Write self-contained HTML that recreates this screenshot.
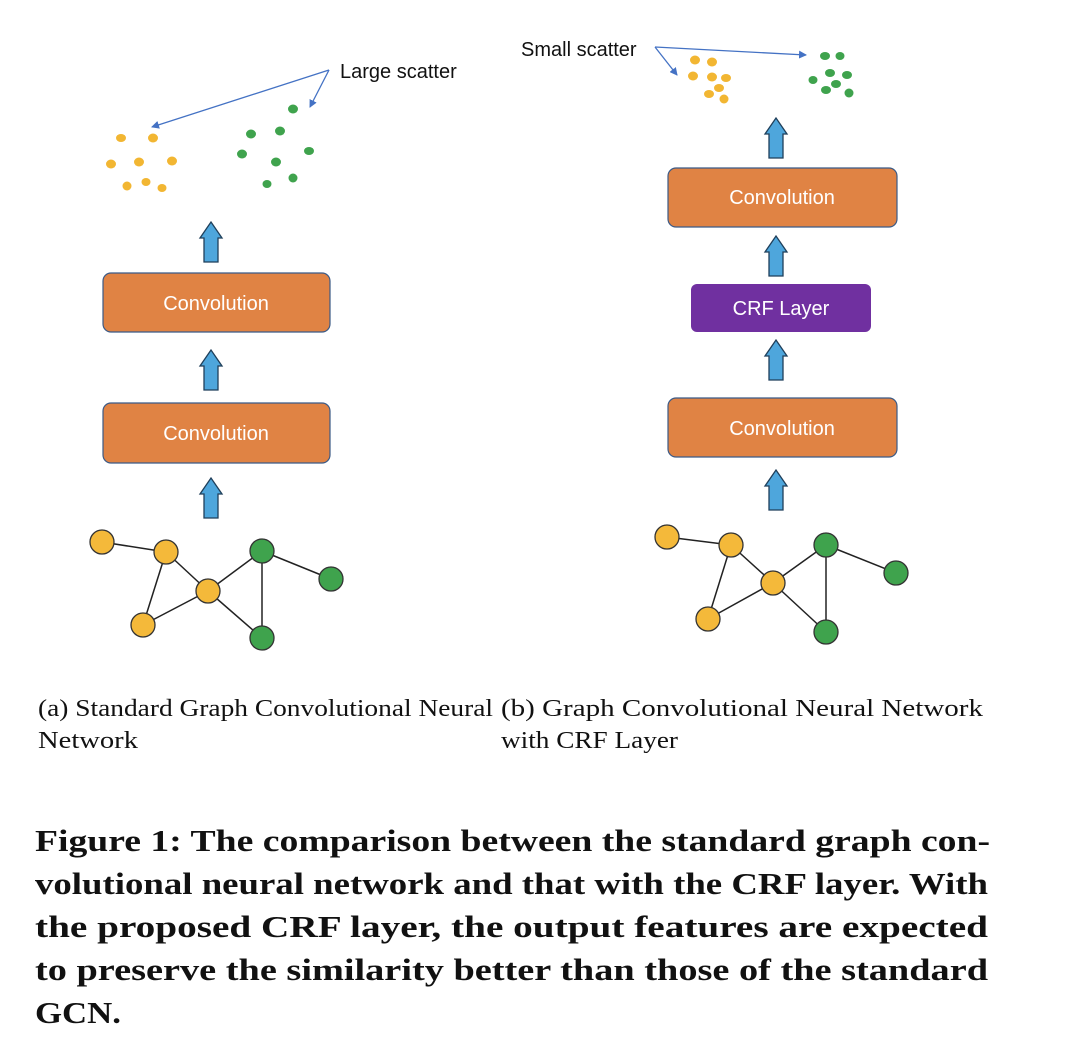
<!DOCTYPE html>
<html><head><meta charset="utf-8"><style>html,body{margin:0;padding:0;background:#fff;}svg{display:block}</style></head>
<body>
<svg width="1080" height="1063" viewBox="0 0 1080 1063" xmlns="http://www.w3.org/2000/svg">
<defs>
<marker id="ah" markerWidth="8" markerHeight="8" refX="7" refY="4" orient="auto" markerUnits="userSpaceOnUse"><path d="M0,0 L8,4 L0,8 z" fill="#4472c4"/></marker>
<g id="up"><path d="M-7,40 L-7,16 L-11,16 L0,0 L11,16 L7,16 L7,40 Z" fill="#4ea6dc" stroke="#1f3f5a" stroke-width="1.3"/></g>
</defs>
<g font-family="Liberation Sans, sans-serif">
<!-- left scatter -->
<g fill="#f2b632">
<ellipse cx="121" cy="138" rx="5" ry="4"/><ellipse cx="153" cy="138" rx="5" ry="4.5"/><ellipse cx="111" cy="164" rx="5" ry="4.5"/><ellipse cx="139" cy="162" rx="5" ry="4.5"/><ellipse cx="172" cy="161" rx="5" ry="4.5"/><ellipse cx="127" cy="186" rx="4.5" ry="4.5"/><ellipse cx="146" cy="182" rx="4.5" ry="4"/><ellipse cx="162" cy="188" rx="4.5" ry="4"/>
</g>
<g fill="#3fa34d">
<ellipse cx="293" cy="109" rx="5" ry="4.5"/><ellipse cx="251" cy="134" rx="5" ry="4.5"/><ellipse cx="280" cy="131" rx="5" ry="4.5"/><ellipse cx="242" cy="154" rx="5" ry="4.5"/><ellipse cx="276" cy="162" rx="5" ry="4.5"/><ellipse cx="309" cy="151" rx="5" ry="4"/><ellipse cx="267" cy="184" rx="4.5" ry="4"/><ellipse cx="293" cy="178" rx="4.5" ry="4.5"/>
</g>
<line x1="329" y1="70" x2="152" y2="127" stroke="#4472c4" stroke-width="1.3" marker-end="url(#ah)"/>
<line x1="329" y1="70" x2="310" y2="107" stroke="#4472c4" stroke-width="1.3" marker-end="url(#ah)"/>
<text x="340" y="78" font-size="20" fill="#111">Large scatter</text>
<!-- right scatter -->
<g fill="#f2b632">
<ellipse cx="695" cy="60" rx="5" ry="4.5"/><ellipse cx="712" cy="62" rx="5" ry="4.5"/><ellipse cx="693" cy="76" rx="5" ry="4.5"/><ellipse cx="712" cy="77" rx="5" ry="4.5"/><ellipse cx="726" cy="78" rx="5" ry="4"/><ellipse cx="719" cy="88" rx="5" ry="4"/><ellipse cx="709" cy="94" rx="5" ry="4"/><ellipse cx="724" cy="99" rx="4.5" ry="4.5"/>
</g>
<g fill="#3fa34d">
<ellipse cx="825" cy="56" rx="5" ry="4"/><ellipse cx="840" cy="56" rx="4.5" ry="4"/><ellipse cx="830" cy="73" rx="5" ry="4"/><ellipse cx="847" cy="75" rx="5" ry="4"/><ellipse cx="836" cy="84" rx="5" ry="4"/><ellipse cx="813" cy="80" rx="4.5" ry="4"/><ellipse cx="826" cy="90" rx="5" ry="4"/><ellipse cx="849" cy="93" rx="4.5" ry="4.5"/>
</g>
<line x1="655" y1="47" x2="806" y2="55" stroke="#4472c4" stroke-width="1.3" marker-end="url(#ah)"/>
<line x1="655" y1="47" x2="677" y2="75" stroke="#4472c4" stroke-width="1.3" marker-end="url(#ah)"/>
<text x="521" y="56" font-size="20" fill="#111">Small scatter</text>
<!-- boxes -->
<g stroke="#3b5a86" stroke-width="1.2">
<rect x="103" y="273" width="227" height="59" rx="8" fill="#e08344"/>
<rect x="103" y="403" width="227" height="60" rx="8" fill="#e08344"/>
<rect x="668" y="168" width="229" height="59" rx="8" fill="#e08344"/>
<rect x="668" y="398" width="229" height="59" rx="8" fill="#e08344"/>
</g>
<rect x="691" y="284" width="180" height="48" rx="6" fill="#7030a0"/>
<g fill="#fff" font-size="20" text-anchor="middle">
<text x="216" y="310">Convolution</text>
<text x="216" y="440">Convolution</text>
<text x="782" y="204">Convolution</text>
<text x="782" y="435">Convolution</text>
<text x="781" y="315">CRF Layer</text>
</g>
<!-- arrows -->
<use href="#up" x="211" y="222"/><use href="#up" x="211" y="350"/><use href="#up" x="211" y="478"/>
<use href="#up" x="776" y="118"/><use href="#up" x="776" y="236"/><use href="#up" x="776" y="340"/><use href="#up" x="776" y="470"/>
<!-- left graph -->
<g stroke="#222" stroke-width="1.5">
<line x1="102" y1="542" x2="166" y2="552"/><line x1="166" y1="552" x2="208" y2="591"/><line x1="166" y1="552" x2="143" y2="625"/><line x1="143" y1="625" x2="208" y2="591"/><line x1="208" y1="591" x2="262" y2="551"/><line x1="208" y1="591" x2="262" y2="638"/><line x1="262" y1="551" x2="262" y2="638"/><line x1="262" y1="551" x2="331" y2="579"/>
<line x1="667" y1="537" x2="731" y2="545"/><line x1="731" y1="545" x2="773" y2="583"/><line x1="731" y1="545" x2="708" y2="619"/><line x1="708" y1="619" x2="773" y2="583"/><line x1="773" y1="583" x2="826" y2="545"/><line x1="773" y1="583" x2="826" y2="632"/><line x1="826" y1="545" x2="826" y2="632"/><line x1="826" y1="545" x2="896" y2="573"/>
</g>
<g stroke="#333" stroke-width="1.3">
<g fill="#f4b93a"><circle cx="102" cy="542" r="12"/><circle cx="166" cy="552" r="12"/><circle cx="208" cy="591" r="12"/><circle cx="143" cy="625" r="12"/>
<circle cx="667" cy="537" r="12"/><circle cx="731" cy="545" r="12"/><circle cx="773" cy="583" r="12"/><circle cx="708" cy="619" r="12"/></g>
<g fill="#3fa34d"><circle cx="262" cy="551" r="12"/><circle cx="331" cy="579" r="12"/><circle cx="262" cy="638" r="12"/>
<circle cx="826" cy="545" r="12"/><circle cx="896" cy="573" r="12"/><circle cx="826" cy="632" r="12"/></g>
</g>
</g>
<g font-family="Liberation Serif, serif" fill="#111">
<text x="38" y="716" font-size="24" textLength="455" lengthAdjust="spacingAndGlyphs">(a) Standard Graph Convolutional Neural</text>
<text x="38" y="748" font-size="24" textLength="100" lengthAdjust="spacingAndGlyphs">Network</text>
<text x="501" y="716" font-size="24" textLength="482" lengthAdjust="spacingAndGlyphs">(b)  Graph Convolutional Neural Network</text>
<text x="501" y="748" font-size="24" textLength="177" lengthAdjust="spacingAndGlyphs">with CRF Layer</text>
<g font-size="31" font-weight="bold">
<text x="35" y="851" textLength="955" lengthAdjust="spacingAndGlyphs">Figure 1: The comparison between the standard graph con-</text>
<text x="35" y="894" textLength="953" lengthAdjust="spacingAndGlyphs">volutional neural network and that with the CRF layer. With</text>
<text x="35" y="937" textLength="953" lengthAdjust="spacingAndGlyphs">the proposed CRF layer, the output features are expected</text>
<text x="35" y="980" textLength="953" lengthAdjust="spacingAndGlyphs">to preserve the similarity better than those of the standard</text>
<text x="35" y="1023" textLength="86" lengthAdjust="spacingAndGlyphs">GCN.</text>
</g>
</g>
</svg>
</body></html>
